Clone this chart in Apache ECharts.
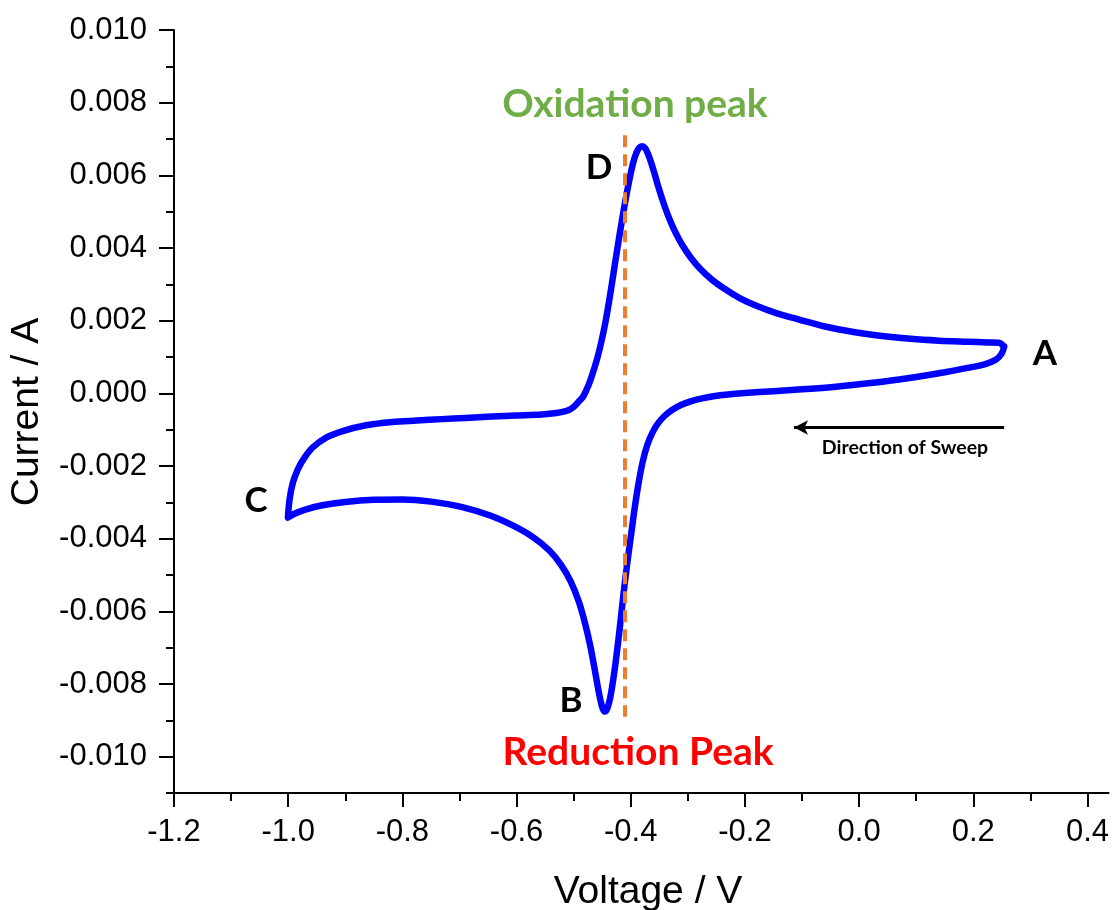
<!DOCTYPE html>
<html>
<head>
<meta charset="utf-8">
<script src="https://cdn.jsdelivr.net/npm/echarts@6/dist/echarts.min.js"></script>
<style>html,body{margin:0;padding:0;background:#fff;}#c{width:1112px;height:910px;}</style>
</head>
<body>
<div id="c"></div>
<script>
// Cyclic voltammogram: starts at A, sweeps negative (lower branch) to C, returns (upper branch) to A
const voltage = [
  // lower branch A -> B -> C
  0.254, 0.250, 0.240, 0.220, 0.190, 0.150, 0.100, 0.050, 0.000, -0.050,
  -0.100, -0.150, -0.200, -0.230, -0.255, -0.275, -0.295, -0.312, -0.327, -0.340,
  -0.352, -0.362, -0.371, -0.379, -0.386, -0.393, -0.399, -0.405, -0.411, -0.416,
  -0.421, -0.426, -0.431, -0.436, -0.441, -0.445, -0.449, -0.453, -0.458, -0.464,
  -0.471, -0.480, -0.491, -0.505, -0.522, -0.543, -0.570, -0.605, -0.645, -0.695,
  -0.750, -0.800, -0.850, -0.900, -0.940, -0.970, -0.990, -1.0005,
  // upper branch C -> D -> A
  -0.9976, -0.9918, -0.9831, -0.9714, -0.9569, -0.9335, -0.9045, -0.8637, -0.8173, -0.775,
  -0.731, -0.690, -0.643, -0.600, -0.556, -0.530, -0.514, -0.505, -0.497, -0.490,
  -0.483, -0.474, -0.466, -0.458, -0.451, -0.444, -0.437, -0.430, -0.423, -0.416,
  -0.409, -0.402, -0.396, -0.390, -0.385, -0.380, -0.375, -0.370, -0.364, -0.358,
  -0.351, -0.343, -0.334, -0.323, -0.310, -0.295, -0.278, -0.258, -0.235, -0.210,
  -0.180, -0.145, -0.105, -0.060, -0.010, 0.040, 0.090, 0.140, 0.190, 0.225,
  0.245, 0.254
];
const current = [
  0.00129, 0.00110, 0.00093, 0.00080, 0.00070, 0.00058, 0.00045, 0.00034, 0.00025, 0.00017,
  0.00011, 0.00006, 0.00001, -0.00003, -0.00008, -0.00014, -0.00022, -0.00032, -0.00045, -0.00061,
  -0.00082, -0.00108, -0.00142, -0.00188, -0.00245, -0.00315, -0.00385, -0.00455, -0.00530, -0.00600,
  -0.00670, -0.00735, -0.00792, -0.00838, -0.00867, -0.00876, -0.00868, -0.00845, -0.00805, -0.00752,
  -0.00694, -0.00633, -0.00573, -0.00518, -0.00472, -0.00432, -0.00397, -0.00365, -0.00337, -0.00313,
  -0.00298, -0.00292, -0.00293, -0.00299, -0.00308, -0.00320, -0.00332, -0.00342,
  -0.00292, -0.00246, -0.00209, -0.00177, -0.00149, -0.00122, -0.00104, -0.00088, -0.00079, -0.00075,
  -0.00071, -0.00068, -0.00064, -0.00061, -0.00058, -0.00054, -0.00049, -0.00043, -0.00033, -0.00021,
  -0.00008, 0.00022, 0.00058, 0.00100, 0.00145, 0.00198, 0.00262, 0.00332, 0.00403, 0.00470,
  0.00533, 0.00590, 0.00633, 0.00662, 0.00676, 0.00680, 0.00675, 0.00660, 0.00634, 0.00603,
  0.00565, 0.00526, 0.00487, 0.00447, 0.00409, 0.00374, 0.00342, 0.00313, 0.00287, 0.00263,
  0.00241, 0.00221, 0.00203, 0.00184, 0.00169, 0.00158, 0.00150, 0.00145, 0.00142, 0.00140,
  0.00139, 0.00129
];
const xMajorTicks = [-1.2, -1.0, -0.8, -0.6, -0.4, -0.2, 0.0, 0.2, 0.4];
const xMinorTicks = [-1.1, -0.9, -0.7, -0.5, -0.3, -0.1, 0.1, 0.3];
const yMajorTicks = [-0.010, -0.008, -0.006, -0.004, -0.002, 0.000, 0.002, 0.004, 0.006, 0.008, 0.010];
const yMinorTicks = [-0.011, -0.009, -0.007, -0.005, -0.003, -0.001, 0.001, 0.003, 0.005, 0.007, 0.009];
const peakVoltage = -0.411;          // dashed reference line
const peakLineRange = [0.0071, -0.0089];
const sweepArrow = [[0.254, -0.00094], [-0.114, -0.00094]];

const xMin = -1.2, xMax = 0.437, yMin = -0.011, yMax = 0.010;
const tickFont = 'Liberation Sans, Arial, sans-serif';

const chart = echarts.init(document.getElementById('c'), null, {renderer: 'canvas'});
const grid = {left: 174, top: 30, right: 0, bottom: 117, containLabel: false};
const axisLineStyle = {color: '#000', width: 2};

const option = {
  animation: false,
  backgroundColor: '#fff',
  grid: grid,
  xAxis: [
    {
      type: 'value', min: xMin, max: xMax,
      axisLine: {show: true, onZero: false, lineStyle: axisLineStyle},
      axisTick: {show: true, inside: false, length: 14, lineStyle: {color: '#000', width: 2}, customValues: xMajorTicks},
      axisLabel: {customValues: xMajorTicks, margin: 24, color: '#000', fontFamily: tickFont, fontSize: 31,
        formatter: v => v.toFixed(1)},
      splitLine: {show: false}
    },
    {
      type: 'value', min: xMin, max: xMax, position: 'bottom',
      axisLine: {show: false, onZero: false},
      axisTick: {show: true, inside: false, length: 8, lineStyle: {color: '#000', width: 2}, customValues: xMinorTicks},
      axisLabel: {show: false, customValues: xMinorTicks},
      splitLine: {show: false}
    }
  ],
  yAxis: [
    {
      type: 'value', min: yMin, max: yMax,
      axisLine: {show: true, onZero: false, lineStyle: axisLineStyle},
      axisTick: {show: true, inside: false, length: 15, lineStyle: {color: '#000', width: 2}, customValues: yMajorTicks},
      axisLabel: {customValues: yMajorTicks, margin: 27, color: '#000', fontFamily: tickFont, fontSize: 31,
        formatter: v => v.toFixed(3)},
      splitLine: {show: false}
    },
    {
      type: 'value', min: yMin, max: yMax, position: 'left',
      axisLine: {show: false, onZero: false},
      axisTick: {show: true, inside: false, length: 8, lineStyle: {color: '#000', width: 2}, customValues: yMinorTicks},
      axisLabel: {show: false, customValues: yMinorTicks},
      splitLine: {show: false}
    }
  ],
  series: [
    {
      type: 'line',
      xAxisIndex: 0, yAxisIndex: 0,
      data: voltage.map((v, i) => [v, current[i]]),
      showSymbol: false,
      smooth: 0.3,
      lineStyle: {color: '#0000ff', width: 6.5, cap: 'round', join: 'round'},
      z: 3,
      markLine: {
        silent: true,
        symbol: ['none', 'none'],
        label: {show: false},
        data: [
          [
            {coord: [peakVoltage, peakLineRange[0]], lineStyle: {color: '#ED7D31', width: 4, type: [12, 7]}},
            {coord: [peakVoltage, peakLineRange[1]]}
          ],
          [
            {coord: sweepArrow[0], symbol: 'none', lineStyle: {color: '#000', width: 3, type: 'solid'}},
            {coord: sweepArrow[1], symbol: 'arrow', symbolSize: [11, 14]}
          ]
        ]
      }
    }
  ],
  graphic: [
    {type: 'text', x: 27, y: 412, rotation: Math.PI / 2, style: {text: 'Current / A', font: '39px Liberation Sans', fill: '#000', textAlign: 'center', textVerticalAlign: 'middle'}},
    {type: 'text', x: 648, y: 892, style: {text: 'Voltage / V', font: '39px Liberation Sans', fill: '#000', textAlign: 'center', textVerticalAlign: 'middle'}},
    {type: 'text', x: 635, y: 104, style: {text: 'Oxidation peak', font: 'bold 39px Lato', fill: '#70AD47', textAlign: 'center', textVerticalAlign: 'middle'}},
    {type: 'text', x: 638, y: 752, style: {text: 'Reduction Peak', font: 'bold 39px Lato', fill: '#FF0000', textAlign: 'center', textVerticalAlign: 'middle'}},
    {type: 'text', x: 1045, y: 354, style: {text: 'A', font: 'bold 35px Lato', fill: '#000', textAlign: 'center', textVerticalAlign: 'middle'}},
    {type: 'text', x: 571, y: 701, style: {text: 'B', font: 'bold 35px Lato', fill: '#000', textAlign: 'center', textVerticalAlign: 'middle'}},
    {type: 'text', x: 256, y: 501, style: {text: 'C', font: 'bold 35px Lato', fill: '#000', textAlign: 'center', textVerticalAlign: 'middle'}},
    {type: 'text', x: 599, y: 168, style: {text: 'D', font: 'bold 35px Lato', fill: '#000', textAlign: 'center', textVerticalAlign: 'middle'}},
    {type: 'text', x: 905, y: 448, style: {text: 'Direction of Sweep', font: 'bold 19.5px Lato', fill: '#000', textAlign: 'center', textVerticalAlign: 'middle'}}
  ]
};
chart.setOption(option);
</script>
</body>
</html>
